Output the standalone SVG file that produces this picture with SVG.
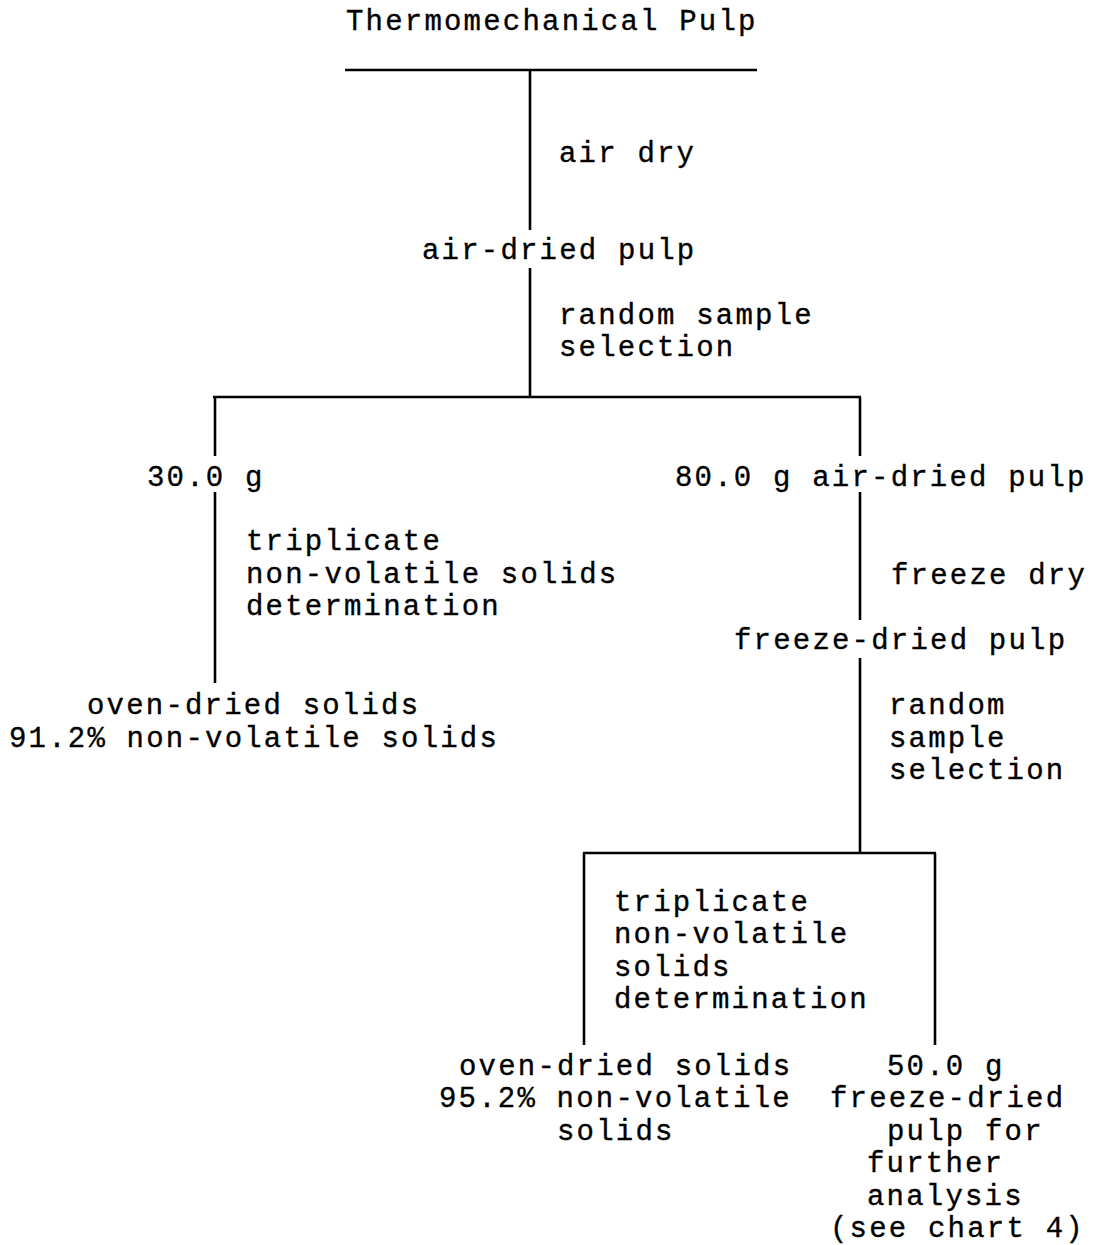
<svg xmlns="http://www.w3.org/2000/svg" width="1095" height="1245" viewBox="0 0 1095 1245">
<style>
text{font-family:"Liberation Mono","Courier New",monospace;font-size:29px;letter-spacing:2.2px;fill:#000;stroke:#000;stroke-width:0.35}
.c line{stroke:#000;stroke-width:2.6;stroke-linecap:butt}
</style>
<rect width="1095" height="1245" fill="#fff"/>
<g class="c" id="connectors">
<line x1="345" y1="70" x2="757" y2="70" stroke-width="3"/>
<line x1="530" y1="70" x2="530" y2="230"/>
<line x1="530" y1="268" x2="530" y2="397"/>
<line x1="213" y1="397" x2="861" y2="397" stroke-width="3"/>
<line x1="215" y1="397" x2="215" y2="456"/>
<line x1="215" y1="492" x2="215" y2="683"/>
<line x1="860" y1="397" x2="860" y2="456"/>
<line x1="860" y1="492" x2="860" y2="620"/>
<line x1="860" y1="658" x2="860" y2="853"/>
<line x1="583" y1="853" x2="936" y2="853" stroke-width="3"/>
<line x1="584" y1="853" x2="584" y2="1045"/>
<line x1="935" y1="853" x2="935" y2="1045"/>
</g>
<g id="n-tmp"><text x="346" y="30">Thermomechanical Pulp</text></g>
<g id="e-airdry"><text x="559" y="162">air dry</text></g>
<g id="n-airdried"><text x="422" y="259">air-dried pulp</text></g>
<g id="e-random1"><text x="559" y="324">random sample</text><text x="559" y="356">selection</text></g>
<g id="n-30g"><text x="147" y="486">30.0 g</text></g>
<g id="e-trip1"><text x="246" y="550">triplicate</text><text x="246" y="583">non-volatile solids</text><text x="246" y="615">determination</text></g>
<g id="n-oven1"><text x="87" y="714">oven-dried solids</text><text x="9" y="747">91.2% non-volatile solids</text></g>
<g id="n-80g"><text x="675" y="486">80.0 g air-dried pulp</text></g>
<g id="e-freeze"><text x="891" y="584">freeze dry</text></g>
<g id="n-freezedried"><text x="734" y="649">freeze-dried pulp</text></g>
<g id="e-random2"><text x="889" y="714">random</text><text x="889" y="747">sample</text><text x="889" y="779">selection</text></g>
<g id="e-trip2"><text x="614" y="911">triplicate</text><text x="614" y="943">non-volatile</text><text x="614" y="976">solids</text><text x="614" y="1008">determination</text></g>
<g id="n-oven2"><text x="459" y="1075">oven-dried solids</text><text x="439" y="1107">95.2% non-volatile</text><text x="557" y="1140">solids</text></g>
<g id="n-50g"><text x="887" y="1075">50.0 g</text><text x="830" y="1107">freeze-dried</text><text x="887" y="1140">pulp for</text><text x="867" y="1172">further</text><text x="867" y="1205">analysis</text><text x="830" y="1237">(see chart 4)</text></g>
</svg>
